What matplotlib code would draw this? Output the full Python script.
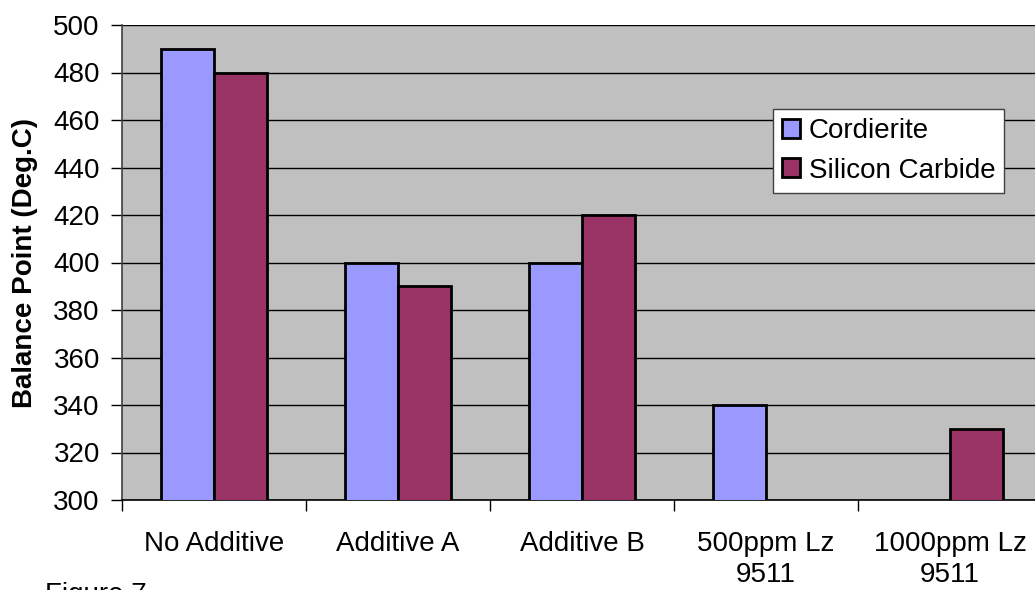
import numpy as np
import matplotlib
matplotlib.use("Agg")
import matplotlib.pyplot as plt

categories = ["No Additive", "Additive A", "Additive B", "500ppm Lz\n9511", "1000ppm Lz\n9511"]
cordierite = [490, 400, 400, 340, np.nan]
silicon_carbide = [480, 390, 420, np.nan, 330]
series_names = ["Cordierite", "Silicon Carbide"]
yticks = list(range(300, 501, 20))

plt.rcParams['font.family'] = ['Liberation Sans', 'DejaVu Sans']

W, H = 1035, 590
FS = 20
fig = plt.figure(figsize=(W / 100, H / 100), dpi=100)
ax = fig.add_axes([122 / W, 1 - 500 / H, (1042 - 122) / W, (500 - 25) / H])
ax.set_facecolor("#C0C0C0")

x = np.arange(len(categories))
bw = 1 / 3.5
ax.bar(x - bw / 2, cordierite, bw, color="#9999FF", edgecolor="black", linewidth=2.0,
       label=series_names[0], zorder=3)
ax.bar(x + bw / 2, silicon_carbide, bw, color="#993366", edgecolor="black", linewidth=2.0,
       label=series_names[1], zorder=3)

ax.set_xlim(-0.5, len(categories) - 0.5)
ax.set_ylim(300, 500)
ax.set_yticks(yticks)
ax.set_yticklabels([str(v) for v in yticks], fontsize=FS)
ax.yaxis.grid(True, color="black", linewidth=1.0, zorder=1)
ax.set_axisbelow(True)

ax.set_xticks(x)
ax.set_xticklabels(categories, fontsize=FS, linespacing=1.25)
ax.tick_params(axis='x', which='major', length=0, pad=22)
ax.set_xticks(np.arange(len(categories) + 1) - 0.5, minor=True)
ax.tick_params(axis='x', which='minor', length=8, width=1, color="black", direction='out')
ax.tick_params(axis='y', length=8, width=1, color="black", pad=8)

for s in ["top", "right"]:
    ax.spines[s].set_visible(False)
ax.spines["left"].set_color("#404040")
ax.spines["left"].set_linewidth(1.2)
ax.spines["bottom"].set_color("black")
ax.spines["bottom"].set_linewidth(1.2)

ax.set_ylabel("Balance Point (Deg.C)", fontsize=FS, fontweight="bold")
ax.yaxis.set_label_coords((38 - 122) / (1042 - 122), 0.5)

leg = ax.legend(loc="upper left", bbox_to_anchor=(773 / W, 1 - 109 / H),
                bbox_transform=fig.transFigure, borderaxespad=0, fontsize=FS,
                fancybox=False, framealpha=1, edgecolor="#404040",
                handlelength=0.65, handleheight=0.65, handletextpad=0.3,
                borderpad=0.33, labelspacing=0.48)
leg.get_frame().set_linewidth(1.0)

fig.text(45 / W, 1 - 582 / H, "Figure 7", fontsize=FS, va="top", ha="left")

fig.savefig("out.png", dpi=100)
